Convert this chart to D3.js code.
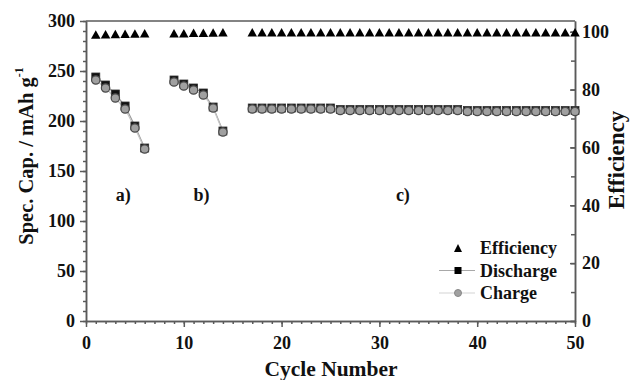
<!DOCTYPE html>
<html>
<head>
<meta charset="utf-8">
<script src="https://cdn.jsdelivr.net/npm/d3@7"></script>
<style>
  body { margin: 0; background: #fff; }
  svg { display: block; font-family: "Liberation Serif", "Times New Roman", serif; }
  text { font-family: "Liberation Serif", "Times New Roman", serif; font-weight: bold; fill: #111; }
</style>
</head>
<body>
<svg width="635" height="380"></svg>
<script>
// --- data ---
const cyclesA = [1, 2, 3, 4, 5, 6];
const dischargeA = [244, 236, 227, 215, 195, 173];
const chargeA = [241, 233, 223, 212, 193, 172];
const effA = [99.0, 99.1, 99.2, 99.3, 99.4, 99.5];

const cyclesB = [9, 10, 11, 12, 13, 14];
const dischargeB = [241, 237, 233, 228, 214, 190];
const chargeB = [239, 235, 231, 226, 213, 189];
const effB = [99.5, 99.5, 99.6, 99.6, 99.7, 99.8];

const cyclesC = [17, 18, 19, 20, 21, 22, 23, 24, 25, 26, 27, 28, 29, 30, 31, 32, 33,
                 34, 35, 36, 37, 38, 39, 40, 41, 42, 43, 44, 45, 46, 47, 48, 49, 50];
const dischargeC = [213, 213, 213, 213, 213, 213, 213, 213, 213, 211.5, 211.5, 211.5, 211.5, 211.5, 211.5, 211.5, 211.5,
                    211.5, 211.5, 211.5, 211.5, 211.5, 210.5, 210.5, 210.5, 210.5, 210.5, 210.5, 210.5, 210.5, 210.5, 210.5, 210.5, 210.5];
const chargeC = [212, 212, 212, 212, 212, 212, 212, 212, 212, 210.5, 210.5, 210.5, 210.5, 210.5, 210.5, 210.5, 210.5,
                 210.5, 210.5, 210.5, 210.5, 210.5, 209.5, 209.5, 209.5, 209.5, 209.5, 209.5, 209.5, 209.5, 209.5, 209.5, 209.5, 209.5];
const effC = [99.8, 99.8, 99.8, 99.8, 99.8, 99.8, 99.8, 99.8, 99.8, 99.8, 99.8, 99.8, 99.8, 99.8, 99.8, 99.8, 99.8,
              99.8, 99.8, 99.8, 99.8, 99.8, 99.8, 99.8, 99.8, 99.8, 99.8, 99.8, 99.8, 99.8, 99.8, 99.8, 99.8, 99.8];

const segmentLabels = ['a)', 'b)', 'c)'];
const segmentLabelX = [3.8, 11.8, 32.4];
const segmentLabelY = 120;

const legendKeys = ['Efficiency', 'Discharge', 'Charge'];

const xTicks = [0, 10, 20, 30, 40, 50];
const yTicks = [0, 50, 100, 150, 200, 250, 300];
const y2Ticks = [0, 20, 40, 60, 80, 100];

// --- layout ---
const svg = d3.select('svg');
const margens = { left: 86, right: 60, top: 21, bottom: 59 };
const width = 635, height = 380;
const innerWidth = width - margens.left - margens.right;
const innerHeight = height - margens.top - margens.bottom;

const g = svg.append('g')
    .attr('transform', `translate(${margens.left}, ${margens.top})`);

const x = d3.scaleLinear().domain([0, 50]).range([0, innerWidth]);
const y = d3.scaleLinear().domain([0, 300]).range([innerHeight, 0]);
const y2 = d3.scaleLinear().domain([0, 103.7]).range([innerHeight, 0]);

const axisColor = '#5a5a5a';

// frame top line
g.append('line')
    .attr('x1', 0).attr('x2', innerWidth)
    .attr('y1', 0).attr('y2', 0)
    .attr('stroke', axisColor).attr('stroke-width', 1.5);

function styleAxis(sel) {
    sel.attr('font-family', null).attr('font-size', null);
    sel.selectAll('path, line').attr('stroke', axisColor).attr('stroke-width', 1.5);
    sel.selectAll('text')
        .attr('font-weight', 'bold')
        .attr('font-size', '18px')
        .attr('fill', '#111');
}

// minor ticks (no labels)
g.append('g')
    .attr('transform', `translate(0,${innerHeight})`)
    .call(d3.axisBottom(x).tickValues(d3.range(0, 51)).tickSize(3).tickSizeOuter(0))
    .call(styleAxis)
    .call(a => a.selectAll('text').remove());
g.append('g')
    .call(d3.axisLeft(y).tickValues(d3.range(0, 301, 10)).tickSize(3).tickSizeOuter(0))
    .call(styleAxis)
    .call(a => a.selectAll('text').remove());
g.append('g')
    .attr('transform', `translate(${innerWidth},0)`)
    .call(d3.axisRight(y2).tickValues(d3.range(0, 101, 10)).tickSize(-4).tickSizeOuter(0))
    .call(styleAxis)
    .call(a => a.selectAll('text').remove());

// major ticks
g.append('g')
    .attr('transform', `translate(0,${innerHeight})`)
    .call(d3.axisBottom(x).tickValues(xTicks).tickSize(6).tickPadding(9).tickSizeOuter(0))
    .call(styleAxis);
g.append('g')
    .call(d3.axisLeft(y).tickValues(yTicks).tickSize(6).tickPadding(5).tickSizeOuter(0))
    .call(styleAxis);
g.append('g')
    .attr('transform', `translate(${innerWidth},0)`)
    .call(d3.axisRight(y2).tickValues(y2Ticks).tickSize(-5).tickPadding(7).tickSizeOuter(0))
    .call(styleAxis);

// axis titles
const ylab = svg.append('text')
    .attr('transform', `translate(33, 156) rotate(-90)`)
    .attr('text-anchor', 'middle')
    .attr('font-size', '20.5px');
ylab.append('tspan').text('Spec. Cap. / mAh g');
ylab.append('tspan').attr('dy', -10).attr('font-size', '12px').text('-1');

svg.append('text')
    .attr('x', 331).attr('y', 376)
    .attr('text-anchor', 'middle')
    .attr('font-size', '21.5px')
    .text('Cycle Number');

svg.append('text')
    .attr('transform', `translate(624, 160) rotate(-90)`)
    .attr('text-anchor', 'middle')
    .attr('font-size', '23px')
    .text('Efficiency');

// series
const segments = [
    { cycles: cyclesA, discharge: dischargeA, charge: chargeA, eff: effA },
    { cycles: cyclesB, discharge: dischargeB, charge: chargeB, eff: effB },
    { cycles: cyclesC, discharge: dischargeC, charge: chargeC, eff: effC }
];

const tri = (cx, cy, w, h) => `M${cx - w / 2},${cy + h / 2}L${cx},${cy - h / 2}L${cx + w / 2},${cy + h / 2}Z`;

segments.forEach(seg => {
    const pts = seg.cycles.map((c, i) => ({ c, d: seg.discharge[i], q: seg.charge[i], e: seg.eff[i] }));

    g.append('path')
        .datum(pts)
        .attr('fill', 'none')
        .attr('stroke', '#9a9a9a')
        .attr('stroke-width', 1.2)
        .attr('d', d3.line().x(d => x(d.c)).y(d => y(d.d)));

    g.append('path')
        .datum(pts)
        .attr('fill', 'none')
        .attr('stroke', '#c8c8c8')
        .attr('stroke-width', 1.2)
        .attr('d', d3.line().x(d => x(d.c)).y(d => y(d.q)));

    g.append('g').selectAll('rect')
        .data(pts)
        .join('rect')
        .attr('x', d => x(d.c) - 4)
        .attr('y', d => y(d.d) - 4)
        .attr('width', 8).attr('height', 8)
        .attr('fill', '#111')
        .attr('stroke', '#333').attr('stroke-width', 0.8);

    g.append('g').selectAll('circle')
        .data(pts)
        .join('circle')
        .attr('cx', d => x(d.c))
        .attr('cy', d => y(d.q))
        .attr('r', 4.2)
        .attr('fill', '#a0a0a0')
        .attr('stroke', '#4a4a4a').attr('stroke-width', 1.2);

    g.append('g').selectAll('path')
        .data(pts)
        .join('path')
        .attr('d', d => tri(x(d.c), y2(d.e), 9.5, 8.5))
        .attr('fill', '#000');
});

// segment labels
g.append('g').selectAll('text')
    .data(segmentLabels)
    .join('text')
    .attr('x', (d, i) => x(segmentLabelX[i]))
    .attr('y', y(segmentLabelY))
    .attr('text-anchor', 'middle')
    .attr('font-size', '18px')
    .text(d => d);

// legend
const legend = svg.append('g').attr('transform', 'translate(458, 248)');
legendKeys.forEach((key, i) => {
    const item = legend.append('g').attr('transform', `translate(0, ${i * 22.5})`);
    if (key === 'Efficiency') {
        item.append('path').attr('d', tri(0, 0, 8, 8)).attr('fill', '#000');
    } else {
        item.append('line')
            .attr('x1', -19).attr('x2', 17)
            .attr('stroke', key === 'Discharge' ? '#a8a8a8' : '#d4d4d4')
            .attr('stroke-width', 1.2);
        if (key === 'Discharge') {
            item.append('rect').attr('x', -3.5).attr('y', -3.5).attr('width', 7).attr('height', 7).attr('fill', '#000');
        } else {
            item.append('circle').attr('r', 3.5).attr('fill', '#a0a0a0').attr('stroke', '#888').attr('stroke-width', 1);
        }
    }
    item.append('text')
        .attr('x', 22)
        .attr('y', 6)
        .attr('font-size', '18px')
        .text(key);
});
</script>
</body>
</html>
